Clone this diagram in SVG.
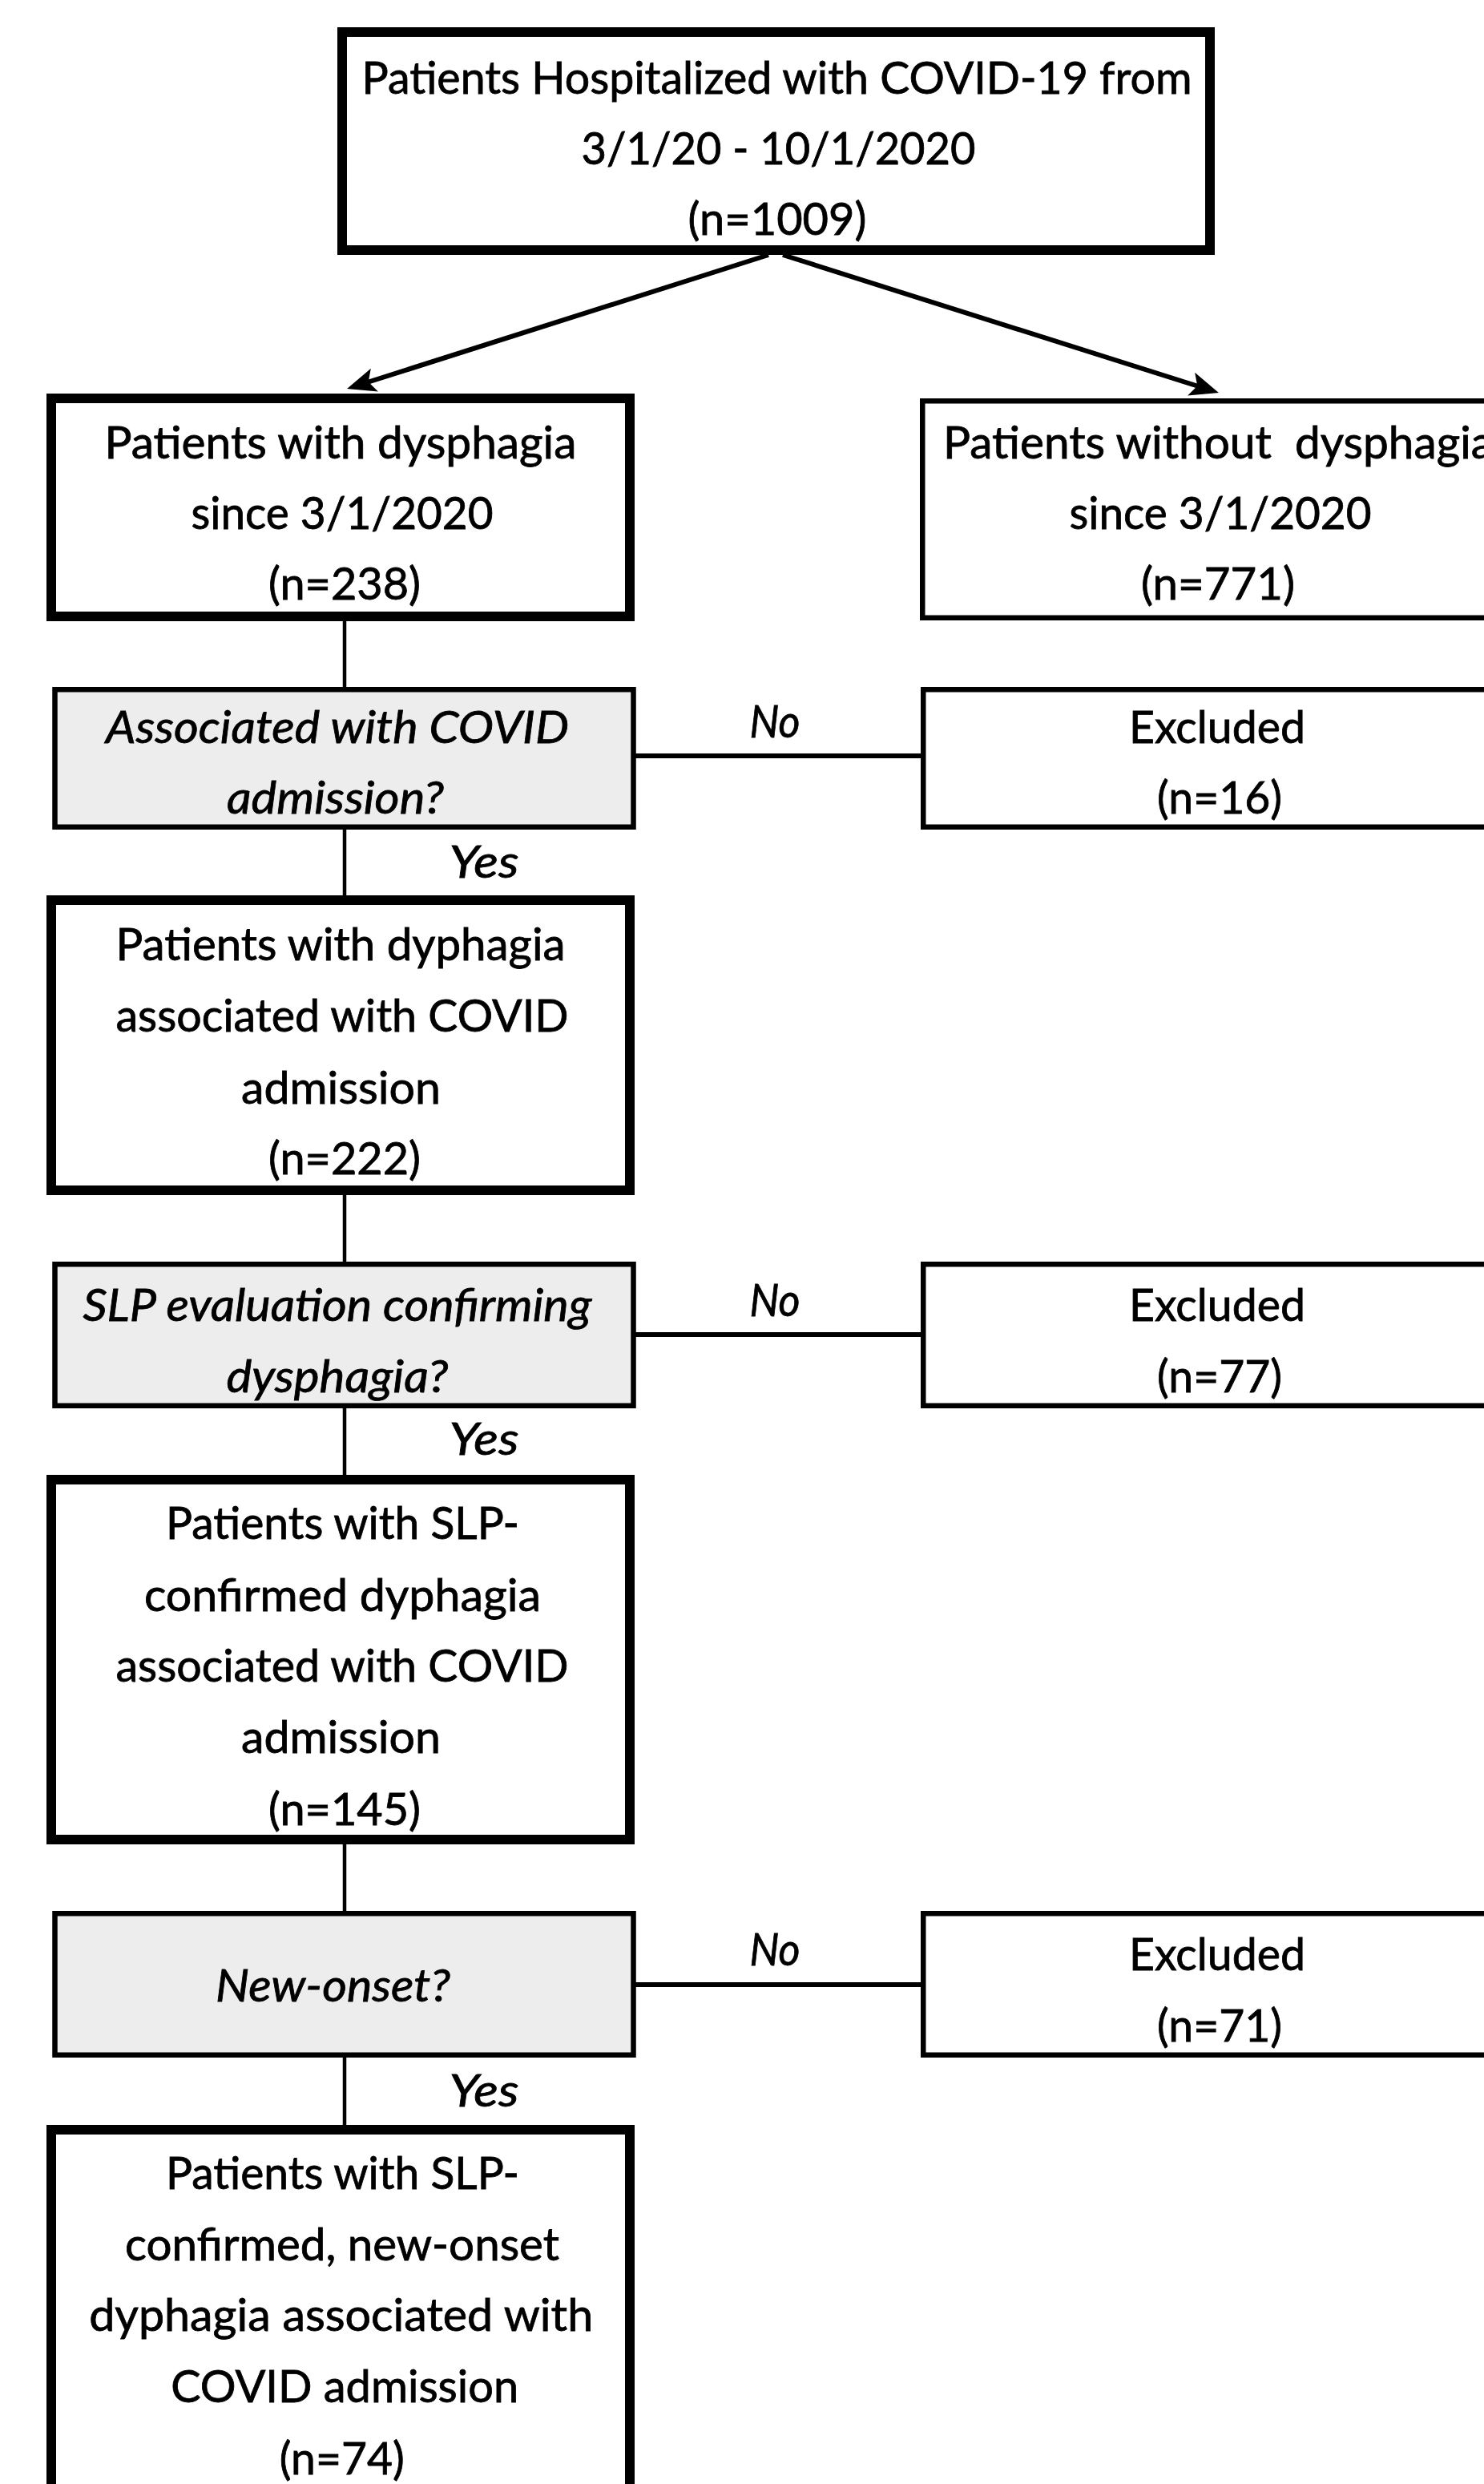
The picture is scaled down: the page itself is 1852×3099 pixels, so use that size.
<svg xmlns="http://www.w3.org/2000/svg" width="1852" height="3099" viewBox="0 0 1852 3099">
<style>
.bg{fill:#ffffff}
.thick{fill:#ffffff;stroke:#000;stroke-width:12}
.thin{fill:#ffffff;stroke:#000;stroke-width:6.5}
.dec{fill:#ededed;stroke:#000;stroke-width:6.5}
text{font-family:Lato,"Liberation Sans",sans-serif;font-size:56px;fill:#000;stroke:#000;stroke-width:0.8;text-anchor:middle}
.it{font-style:italic}
.conn line{stroke:#000;stroke-linecap:butt}
.v{stroke-width:4.5}
.h{stroke-width:6}
.a{stroke-width:6}
</style>
<defs>
<marker id="arr" markerUnits="userSpaceOnUse" markerWidth="38" markerHeight="32" refX="16" refY="15" orient="auto" viewBox="0 0 38 30">
<path d="M0,0 L36,15 L0,30 L8,15 z" fill="#000"/>
</marker>
</defs>
<rect class="bg" x="0" y="0" width="1852" height="3099"/>

<g id="connectors" class="conn">
<line class="a" x1="959" y1="318" x2="452.1" y2="479" marker-end="url(#arr)"/>
<line class="a" x1="977" y1="318" x2="1501.9" y2="484" marker-end="url(#arr)"/>
<line class="v" x1="430" y1="775" x2="430" y2="857"/>
<line class="v" x1="430" y1="1035" x2="430" y2="1117"/>
<line class="v" x1="430" y1="1491" x2="430" y2="1574"/>
<line class="v" x1="430" y1="1757" x2="430" y2="1840"/>
<line class="v" x1="430" y1="2301" x2="430" y2="2384"/>
<line class="v" x1="430" y1="2567" x2="430" y2="2651"/>
<line class="h" x1="793" y1="943" x2="1150" y2="943"/>
<line class="h" x1="793" y1="1665" x2="1150" y2="1665"/>
<line class="h" x1="793" y1="2476" x2="1150" y2="2476"/>
<text class="it" x="967" y="920" textLength="63" lengthAdjust="spacingAndGlyphs">No</text>
<text class="it" x="604" y="1095" textLength="87" lengthAdjust="spacingAndGlyphs">Yes</text>
<text class="it" x="967" y="1642" textLength="63" lengthAdjust="spacingAndGlyphs">No</text>
<text class="it" x="604" y="1815" textLength="87" lengthAdjust="spacingAndGlyphs">Yes</text>
<text class="it" x="967" y="2452" textLength="63" lengthAdjust="spacingAndGlyphs">No</text>
<text class="it" x="604" y="2628" textLength="87" lengthAdjust="spacingAndGlyphs">Yes</text>
</g>

<g id="node-hospitalized">
<rect class="thick" x="427" y="40" width="1083" height="272"/>
<text x="969.6" y="117" textLength="1036" lengthAdjust="spacingAndGlyphs">Patients Hospitalized with COVID-19 from</text>
<text x="971.5" y="205" textLength="492" lengthAdjust="spacingAndGlyphs">3/1/20 - 10/1/2020</text>
<text x="970" y="293" textLength="223" lengthAdjust="spacingAndGlyphs">(n=1009)</text>
</g>

<g id="node-dysphagia">
<rect class="thick" x="64" y="497" width="722" height="272"/>
<text x="425" y="572" textLength="589" lengthAdjust="spacingAndGlyphs">Patients with dysphagia</text>
<text x="427" y="660" textLength="377" lengthAdjust="spacingAndGlyphs">since 3/1/2020</text>
<text x="430" y="748" textLength="190" lengthAdjust="spacingAndGlyphs">(n=238)</text>
</g>

<g id="node-without">
<rect class="thin" x="1151.25" y="500.25" width="800" height="270.5"/>
<text x="1177" y="572" textLength="687" lengthAdjust="spacingAndGlyphs" style="text-anchor:start;white-space:pre" xml:space="preserve">Patients without  dysphagia</text>
<text x="1523" y="660" textLength="377" lengthAdjust="spacingAndGlyphs">since 3/1/2020</text>
<text x="1520" y="748" textLength="192" lengthAdjust="spacingAndGlyphs">(n=771)</text>
</g>

<g id="decision-covid">
<rect class="dec" x="68.5" y="860.25" width="722" height="171.5"/>
<text class="it" x="421" y="927" textLength="578" lengthAdjust="spacingAndGlyphs">Associated with COVID</text>
<text class="it" x="418.5" y="1015" textLength="271" lengthAdjust="spacingAndGlyphs">admission?</text>
</g>

<g id="excluded-16">
<rect class="thin" x="1152.25" y="860.25" width="800" height="171.5"/>
<text x="1519" y="927" textLength="220" lengthAdjust="spacingAndGlyphs">Excluded</text>
<text x="1522" y="1015" textLength="156" lengthAdjust="spacingAndGlyphs">(n=16)</text>
</g>

<g id="node-222">
<rect class="thick" x="64" y="1123" width="722" height="362"/>
<text x="425" y="1198" textLength="561" lengthAdjust="spacingAndGlyphs">Patients with dyphagia</text>
<text x="427" y="1287" textLength="565" lengthAdjust="spacingAndGlyphs">associated with COVID</text>
<text x="425.5" y="1377" textLength="249" lengthAdjust="spacingAndGlyphs">admission</text>
<text x="430" y="1465" textLength="190" lengthAdjust="spacingAndGlyphs">(n=222)</text>
</g>

<g id="decision-slp">
<rect class="dec" x="68.5" y="1577.25" width="722" height="176.5"/>
<text class="it" x="421" y="1648" textLength="635" lengthAdjust="spacingAndGlyphs">SLP evaluation confirming</text>
<text class="it" x="421" y="1737" textLength="277" lengthAdjust="spacingAndGlyphs">dysphagia?</text>
</g>

<g id="excluded-77">
<rect class="thin" x="1152.25" y="1577.25" width="800" height="176.5"/>
<text x="1519" y="1648" textLength="220" lengthAdjust="spacingAndGlyphs">Excluded</text>
<text x="1522" y="1737" textLength="156" lengthAdjust="spacingAndGlyphs">(n=77)</text>
</g>

<g id="node-145">
<rect class="thick" x="64" y="1846" width="722" height="449"/>
<text x="427.5" y="1920" textLength="441" lengthAdjust="spacingAndGlyphs">Patients with SLP-</text>
<text x="427.5" y="2010" textLength="495" lengthAdjust="spacingAndGlyphs">confirmed dyphagia</text>
<text x="427" y="2098" textLength="565" lengthAdjust="spacingAndGlyphs">associated with COVID</text>
<text x="425.5" y="2187" textLength="249" lengthAdjust="spacingAndGlyphs">admission</text>
<text x="430" y="2277" textLength="190" lengthAdjust="spacingAndGlyphs">(n=145)</text>
</g>

<g id="decision-newonset">
<rect class="dec" x="68.5" y="2387.25" width="722" height="176.5"/>
<text class="it" x="415.5" y="2497" textLength="293" lengthAdjust="spacingAndGlyphs">New-onset?</text>
</g>

<g id="excluded-71">
<rect class="thin" x="1152.25" y="2387.25" width="800" height="176.5"/>
<text x="1519" y="2458" textLength="220" lengthAdjust="spacingAndGlyphs">Excluded</text>
<text x="1522" y="2547" textLength="156" lengthAdjust="spacingAndGlyphs">(n=71)</text>
</g>

<g id="node-74">
<rect class="thick" x="64" y="2657" width="722" height="500"/>
<text x="427.5" y="2731" textLength="441" lengthAdjust="spacingAndGlyphs">Patients with SLP-</text>
<text x="427" y="2820" textLength="542" lengthAdjust="spacingAndGlyphs">confirmed, new-onset</text>
<text x="425.7" y="2908" textLength="629" lengthAdjust="spacingAndGlyphs">dyphagia associated with</text>
<text x="430.2" y="2997" textLength="434" lengthAdjust="spacingAndGlyphs">COVID admission</text>
<text x="426.8" y="3087" textLength="156" lengthAdjust="spacingAndGlyphs">(n=74)</text>
</g>
</svg>
